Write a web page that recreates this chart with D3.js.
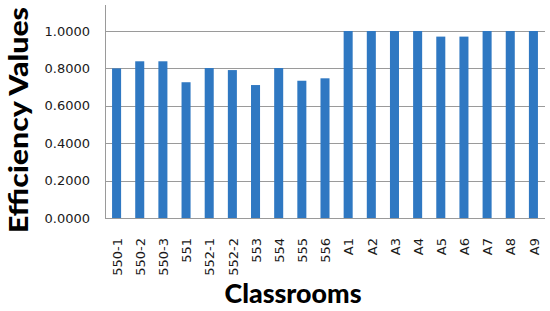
<!DOCTYPE html>
<html><head><meta charset="utf-8">
<script src="https://cdn.jsdelivr.net/npm/d3@7"></script>
<style>body{margin:0;background:#fff}svg{display:block}</style>
</head><body>
<svg id="c" width="550" height="311"></svg>
<script>
const categories = ["550-1","550-2","550-3","551","552-1","552-2","553","554","555","556","A1","A2","A3","A4","A5","A6","A7","A8","A9"];
const values = [0.800,0.838,0.838,0.726,0.802,0.791,0.711,0.802,0.734,0.747,1.0,1.0,1.0,1.0,0.970,0.970,1.0,1.0,1.0];
const yTicks = [0,0.2,0.4,0.6,0.8,1.0];

const svg = d3.select("#c");
const mLeft = 105, mRight = 545, mTop = 5, mBottom = 218;
const tickFont = "DejaVu Sans, Verdana, sans-serif";
const titleFont = "Lato, Open Sans, sans-serif";

const x = d3.scaleBand().domain(categories).range([mLeft, mRight]).paddingInner(0.61).paddingOuter(0.305);
const y = d3.scaleLinear().domain([0, 1]).range([mBottom, 31]);

// gridlines
svg.append("g").selectAll("line").data(yTicks.slice(1)).join("line")
  .attr("x1", mLeft).attr("x2", mRight)
  .attr("y1", d => Math.round(y(d)) + 0.5).attr("y2", d => Math.round(y(d)) + 0.5)
  .attr("stroke", "#9a9a9a").attr("stroke-width", 1);

// bars
svg.append("g").selectAll("rect").data(values).join("rect")
  .attr("x", (d, i) => x(categories[i]))
  .attr("width", x.bandwidth())
  .attr("y", d => y(d))
  .attr("height", d => y(0) - y(d))
  .attr("fill", "#2f78c2");

// axes lines
svg.append("line").attr("x1", mLeft + 0.5).attr("x2", mLeft + 0.5).attr("y1", mTop).attr("y2", mBottom + 0.5)
  .attr("stroke", "#9a9a9a");
svg.append("line").attr("x1", mLeft).attr("x2", mRight).attr("y1", mBottom + 0.5).attr("y2", mBottom + 0.5)
  .attr("stroke", "#9a9a9a");

// y tick labels
svg.append("g").selectAll("text").data(yTicks).join("text")
  .attr("x", 90).attr("y", d => y(d)).attr("dy", "0.36em")
  .attr("text-anchor", "end")
  .attr("font-family", tickFont).attr("font-size", 13).attr("fill", "#1a1a1a")
  .text(d => d3.format(".4f")(d));

// x tick labels
svg.append("g").selectAll("text").data(categories).join("text")
  .attr("transform", d => `translate(${x(d) + x.bandwidth() / 2 + 0.5},238) rotate(-90)`)
  .attr("dy", "0.36em")
  .attr("text-anchor", "end")
  .attr("font-family", tickFont).attr("font-size", 13).attr("fill", "#1a1a1a")
  .text(d => d);

// axis titles
svg.append("text")
  .attr("transform", "translate(28,120) rotate(-90)")
  .attr("text-anchor", "middle")
  .attr("font-family", titleFont).attr("font-weight", 900).attr("font-size", 27).attr("fill", "#000")
  .attr("textLength", 226).attr("lengthAdjust", "spacingAndGlyphs")
  .text("Efficiency Values");

svg.append("text")
  .attr("x", 293).attr("y", 303)
  .attr("text-anchor", "middle")
  .attr("font-family", titleFont).attr("font-weight", 900).attr("font-size", 26).attr("fill", "#000")
  .attr("textLength", 137).attr("lengthAdjust", "spacingAndGlyphs")
  .text("Classrooms");
</script>
</body></html>
